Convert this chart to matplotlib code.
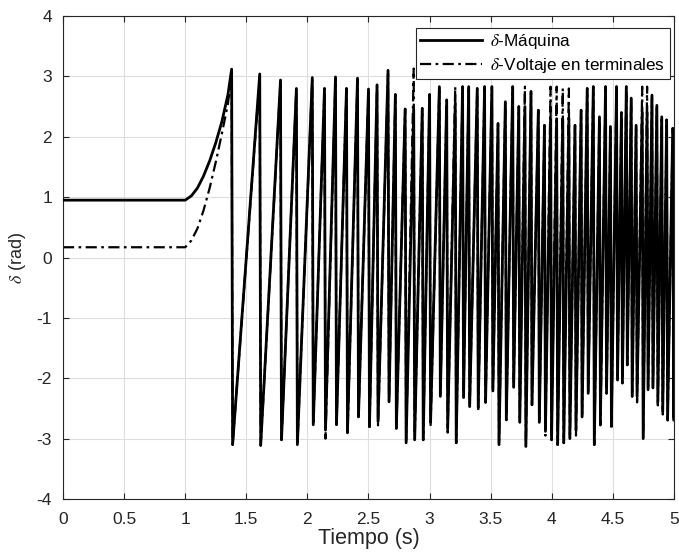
import numpy as np
import matplotlib
matplotlib.use("Agg")
import matplotlib.pyplot as plt

plt.rcParams['font.family'] = ['Liberation Sans', 'DejaVu Sans']
plt.rcParams['mathtext.fontset'] = 'stix'

# pre-fault / acceleration part
init_t = [0.0, 1.0, 1.05, 1.1, 1.15, 1.2, 1.25, 1.3, 1.35]
maq_init = [0.95, 0.95, 1.02, 1.15, 1.35, 1.6, 1.9, 2.25, 2.7]
volt_init = [0.17, 0.17, 0.28, 0.48, 0.78, 1.15, 1.58, 2.05, 2.55]

# wrapped angle: time of each peak (right before the jump to -pi)
peak_t = [1.38, 1.61, 1.78, 1.91, 2.04, 2.14, 2.23, 2.32, 2.41, 2.50,
          2.57, 2.66, 2.72, 2.80, 2.87, 2.94, 3.00, 3.08, 3.14, 3.21,
          3.27, 3.32, 3.39, 3.45, 3.51, 3.56, 3.62, 3.68, 3.73, 3.78,
          3.83, 3.89, 3.94, 3.99, 4.04, 4.09, 4.14, 4.19, 4.24, 4.29,
          4.34, 4.39, 4.44, 4.48, 4.53, 4.57, 4.61, 4.65, 4.69, 4.74,
          4.78, 4.82, 4.86, 4.90, 4.94, 4.99]

maq_peak = [3.12, 3.04, 2.94, 2.80, 2.98, 2.80, 2.99, 2.80, 2.97, 2.79,
            2.86, 3.10, 2.70, 2.46, 2.45, 2.47, 2.70, 2.83, 2.61, 2.55,
            2.83, 2.83, 2.80, 2.83, 2.83, 2.22, 2.58, 2.83, 2.50, 2.50,
            2.75, 2.44, 2.19, 2.30, 2.30, 2.30, 2.30, 2.19, 2.44, 2.80,
            2.83, 2.33, 2.83, 2.17, 2.83, 2.40, 2.83, 2.64, 2.19, 2.40,
            2.40, 2.69, 2.52, 2.33, 2.28, 2.14]
maq_trough = [-3.10, -3.10, -3.02, -3.10, -2.77, -2.86, -2.77, -2.88, -2.64, -2.80,
              -2.72, -2.39, -2.83, -3.07, -3.02, -3.02, -2.73, -2.30, -2.83, -3.07,
              -2.32, -2.47, -2.48, -2.40, -2.21, -3.10, -2.69, -2.15, -2.73, -3.13,
              -2.44, -2.73, -2.88, -3.02, -3.10, -3.07, -3.00, -2.86, -2.64, -2.25,
              -3.10, -2.70, -2.25, -2.77, -2.03, -2.08, -1.78, -2.30, -2.30, -3.00,
              -2.19, -2.16, -2.39, -2.55, -2.64, -2.66]

volt_peak = [3.05, 3.00, 2.92, 2.80, 2.95, 2.80, 2.97, 2.80, 2.95, 2.78,
             2.85, 3.05, 2.70, 2.46, 3.13, 2.47, 2.70, 2.83, 2.61, 2.83,
             2.83, 2.83, 2.80, 2.83, 2.83, 2.22, 2.58, 2.83, 2.50, 2.83,
             2.75, 2.44, 2.19, 2.83, 2.83, 2.80, 2.80, 2.19, 2.44, 2.80,
             2.83, 2.33, 2.83, 2.17, 2.83, 2.40, 2.83, 2.64, 2.19, 2.83,
             2.83, 2.69, 2.52, 2.33, 2.28, 2.14]
volt_trough = [-3.10, -3.12, -3.02, -3.10, -2.77, -3.00, -2.77, -2.95, -2.64, -2.85,
               -2.78, -2.39, -2.83, -3.07, -3.02, -3.02, -2.80, -2.30, -2.90, -3.07,
               -2.32, -2.47, -2.55, -2.40, -2.21, -3.10, -2.69, -2.15, -2.73, -3.13,
               -2.44, -2.73, -2.95, -3.02, -3.10, -3.07, -3.00, -2.95, -2.64, -2.25,
               -3.10, -2.78, -2.25, -2.85, -2.03, -2.08, -1.78, -2.30, -2.40, -3.00,
               -2.19, -2.16, -2.45, -2.60, -2.70, -2.70]

t_end = 5.0
maq_end = -1.0
volt_end = -2.6

wrap_dt = 0.008


def build(init_v, peaks, troughs, end_v):
    t = list(init_t)
    v = list(init_v)
    for tk, p, q in zip(peak_t, peaks, troughs):
        t += [tk, tk + wrap_dt]
        v += [p, q]
    t.append(t_end)
    v.append(end_v)
    return np.array(t), np.array(v)


t_m, d_m = build(maq_init, maq_peak, maq_trough, maq_end)
t_v, d_v = build(volt_init, volt_peak, volt_trough, volt_end)

fig = plt.figure(figsize=(6.79, 5.56), dpi=100)
ax = fig.add_axes([0.0928, 0.1025, 0.8998, 0.8687])

ax.plot(t_v, d_v, color='k', lw=1.6, ls=(0, (5, 2, 1.2, 2)),
        label=r'$\delta$-Voltaje en terminales', zorder=2)
ax.plot(t_m, d_m, color='k', lw=2.0, label=r'$\delta$-Máquina', zorder=3)

ax.set_xlim(0, 5)
ax.set_ylim(-4, 4)
ax.set_xticks(np.arange(0, 5.01, 0.5))
ax.set_xticklabels(['0', '0.5', '1', '1.5', '2', '2.5', '3', '3.5', '4', '4.5', '5'])
ax.set_yticks(np.arange(-4, 4.1, 1))
ax.set_yticklabels(['-4', '-3', '-2', '-1', '0', '1', '2', '3', '4'])
ax.grid(True, color='#dedede', lw=0.8)
ax.set_axisbelow(True)
ax.tick_params(direction='in', top=True, right=True, labelsize=12.5,
               color='#262626', labelcolor='#262626', length=4)
ax.tick_params(axis='x', pad=9)
ax.tick_params(axis='y', pad=8)
for s in ax.spines.values():
    s.set_color('#262626')
    s.set_linewidth(0.8)

ax.set_xlabel('Tiempo (s)', fontsize=15.5, color='#262626', labelpad=1)
ax.set_ylabel(r'$\delta$ (rad)', fontsize=13, color='#262626', labelpad=6)

h, l = ax.get_legend_handles_labels()
leg = ax.legend(h[::-1], l[::-1], loc='upper right', bbox_to_anchor=(0.993, 0.975),
                fontsize=12.3, frameon=True, fancybox=False, framealpha=1,
                edgecolor='#262626', handlelength=3.6, borderpad=0.25,
                labelspacing=0.25, handletextpad=0.5, borderaxespad=0)
leg.get_frame().set_linewidth(0.8)

fig.savefig('out.png', dpi=100)
